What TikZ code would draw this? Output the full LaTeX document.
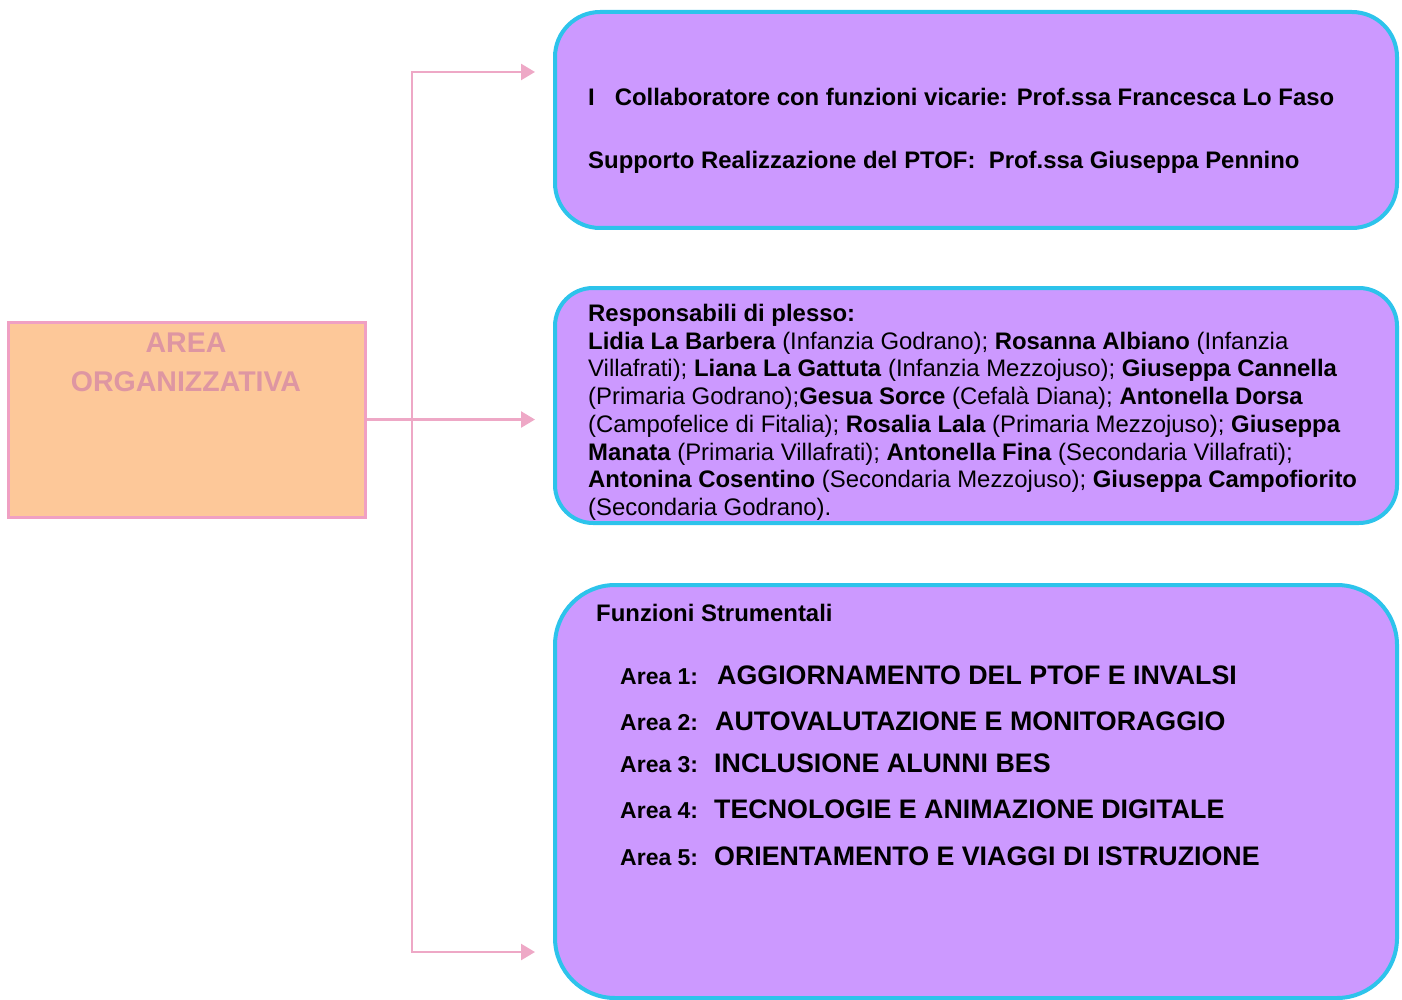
\documentclass[tikz,border=0pt]{standalone}
\usepackage{fontspec}
\setmainfont{Liberation Sans}
\usepackage{xcolor}
\usepackage{tikz}
\usetikzlibrary{arrows.meta}
\usetikzlibrary{calc}
\definecolor{boxviolet}{RGB}{204,153,255}
\definecolor{boxcyan}{RGB}{45,195,235}
\definecolor{areaorange}{RGB}{253,200,153}
\definecolor{areapink}{RGB}{240,160,195}
\definecolor{areatext}{RGB}{222,150,162}
\definecolor{linkpink}{RGB}{238,168,198}
\newcommand{\normsize}{\fontsize{23.9}{27.7}\selectfont}
\newcommand{\areasize}{\fontsize{23}{26}\selectfont}
\newcommand{\capsize}{\fontsize{26.8}{30}\selectfont}

\begin{document}
\begin{tikzpicture}[x=1pt, y=-1pt]
                \tikzstyle{box}  = [rectangle, draw=boxcyan, line width=4pt, fill=boxviolet, inner sep=0pt]
                \tikzstyle{link} = [draw=linkpink, line width=2.5pt, -{Triangle[length=14pt, width=16pt]}, shorten >=18pt]
                \tikzstyle{txt}  = [anchor=base west, inner sep=0pt, font=\normsize]
                \useasboundingbox (0,0) rectangle (1402,1000);
                \node [box, draw=areapink, fill=areaorange, line width=3pt, minimum width=357pt, minimum height=195pt](area) at (186.5, 419.5) {};
                \node [box, rounded corners=45pt, minimum width=842pt, minimum height=216pt](b1) at (976, 120) {};
                \node [box, rounded corners=38pt, minimum width=842pt, minimum height=235pt](b2) at (976, 405.5) {};
                \node [box, rounded corners=60pt, minimum width=842pt, minimum height=413pt](b3) at (976, 791.5) {};
                \coordinate (j) at (412, 419.5);
                %%Title
                \node [anchor=base, inner sep=0pt, text=areatext, font=\bfseries\fontsize{28.5}{39}\selectfont](t1) at (186, 352) {AREA};
                \node [anchor=base, inner sep=0pt, text=areatext, font=\bfseries\fontsize{28.5}{39}\selectfont](t2) at (186, 391) {ORGANIZZATIVA};
                %%Box 1
                \node [txt, font=\normsize\bfseries](c1) at (588, 105.5) {I\hspace{20pt}Collaboratore con funzioni vicarie: Prof.ssa Francesca Lo Faso};
                \node [txt, font=\normsize\bfseries](c2) at (588, 168.5) {Supporto Realizzazione del PTOF:\ \ Prof.ssa Giuseppa Pennino};
                %%Box 2
                \node [txt](r1) at (588, 321.5) {\textbf{Responsabili di plesso:}};
                \node [txt](r2) at (588, 349.2) {\textbf{Lidia La Barbera} (Infanzia Godrano); \textbf{Rosanna Albiano} (Infanzia};
                \node [txt](r3) at (588, 376.9) {Villafrati); \textbf{Liana La Gattuta} (Infanzia Mezzojuso); \textbf{Giuseppa Cannella}};
                \node [txt](r4) at (588, 404.6) {(Primaria Godrano);\textbf{Gesua Sorce} (Cefalà Diana); \textbf{Antonella Dorsa}};
                \node [txt](r5) at (588, 432.3) {(Campofelice di Fitalia); \textbf{Rosalia Lala} (Primaria Mezzojuso); \textbf{Giuseppa}};
                \node [txt](r6) at (588, 460.0) {\textbf{Manata} (Primaria Villafrati); \textbf{Antonella Fina} (Secondaria Villafrati);};
                \node [txt](r7) at (588, 487.7) {\textbf{Antonina Cosentino} (Secondaria Mezzojuso); \textbf{Giuseppa Campofiorito}};
                \node [txt](r8) at (588, 515.4) {(Secondaria Godrano).};
                %%Box 3
                \node [txt, font=\normsize\bfseries](f0) at (596, 621.5) {Funzioni Strumentali};
                \node [txt, font=\bfseries](f1) at (620, 684.5) {\makebox[97pt][l]{\areasize Area 1:}\capsize AGGIORNAMENTO DEL PTOF E INVALSI};
                \node [txt, font=\bfseries](f2) at (620, 730.5) {\makebox[95pt][l]{\areasize Area 2:}\capsize AUTOVALUTAZIONE E MONITORAGGIO};
                \node [txt, font=\bfseries](f3) at (620, 772.5) {\makebox[94pt][l]{\areasize Area 3:}\capsize INCLUSIONE ALUNNI BES};
                \node [txt, font=\bfseries](f4) at (620, 818.5) {\makebox[94pt][l]{\areasize Area 4:}\capsize TECNOLOGIE E ANIMAZIONE DIGITALE};
                \node [txt, font=\bfseries](f5) at (620, 865.5) {\makebox[94pt][l]{\areasize Area 5:}\capsize ORIENTAMENTO E VIAGGI DI ISTRUZIONE};
                %%Edges
                \draw [link] (j) |- ([yshift=48pt]b1.west);
                \draw [link] (area.east) -- (area.east -| b2.west);
                \draw [link] (j) |- ([yshift=-160.5pt]b3.west);
\end{tikzpicture}
\end{document}
